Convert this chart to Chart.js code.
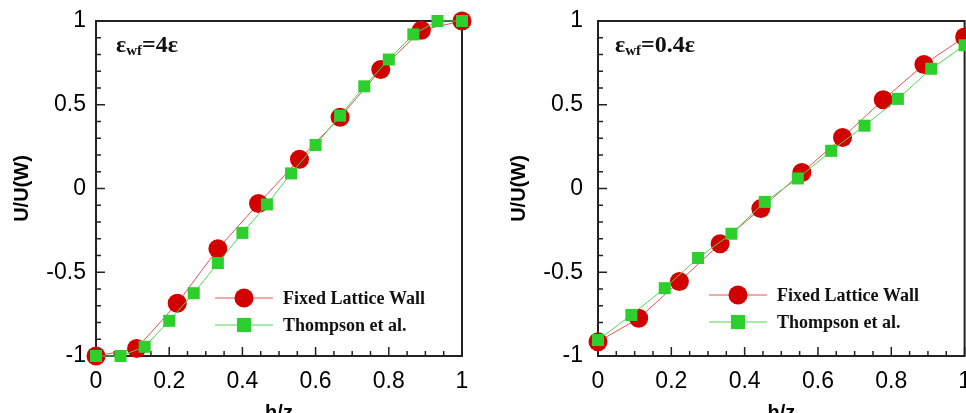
<!DOCTYPE html>
<html>
<head>
<meta charset="utf-8">
<script src="https://cdn.jsdelivr.net/npm/chart.js@4.4.1/dist/chart.umd.min.js"></script>
<style>
    html, body { margin: 0; padding: 0; background: #fff; overflow: hidden; width: 966px; height: 413px; }
    canvas { position: absolute; top: 0; }
    #left-chart { left: 0; }
    #right-chart { left: 483px; }
</style>
</head>
<body>
<canvas id="left-chart" width="483" height="430"></canvas>
<canvas id="right-chart" width="500" height="430"></canvas>
<script>
// Series names and tick labels
const seriesNames = ['Fixed Lattice Wall', 'Thompson et al.'];
const xTickLabels = ['0', '0.2', '0.4', '0.6', '0.8', '1'];
const yTickLabels = ['-1', '-0.5', '0', '0.5', '1'];

// Left panel (eps_wf = 4 eps)
const leftTag = ['ε', 'wf', '=4ε'];
const leftLatticeX = [0, 0.111, 0.222, 0.333, 0.444, 0.556, 0.667, 0.778, 0.889, 1];
const leftLatticeY = [-1, -0.955, -0.685, -0.36, -0.09, 0.175, 0.425, 0.71, 0.945, 1];
const leftThompsonX = [0, 0.067, 0.133, 0.2, 0.267, 0.333, 0.4, 0.467, 0.533, 0.6, 0.667, 0.733, 0.8, 0.867, 0.933, 1];
const leftThompsonY = [-1, -1, -0.945, -0.79, -0.625, -0.445, -0.265, -0.095, 0.09, 0.26, 0.435, 0.61, 0.77, 0.92, 1, 1];

// Right panel (eps_wf = 0.4 eps)
const rightTag = ['ε', 'wf', '=0.4ε'];
const rightLatticeX = [0, 0.111, 0.222, 0.333, 0.444, 0.556, 0.667, 0.778, 0.889, 1];
const rightLatticeY = [-0.915, -0.775, -0.555, -0.33, -0.12, 0.095, 0.305, 0.53, 0.74, 0.905];
const rightThompsonX = [0, 0.091, 0.182, 0.273, 0.364, 0.455, 0.545, 0.636, 0.727, 0.818, 0.909, 1];
const rightThompsonY = [-0.905, -0.755, -0.595, -0.415, -0.27, -0.08, 0.06, 0.225, 0.375, 0.535, 0.715, 0.855];

Chart.defaults.font.family = '"Liberation Sans", Arial, sans-serif';
Chart.defaults.color = '#000';

function toPoints(xs, ys) {
    return xs.map((x, i) => ({ x: x, y: ys[i] }));
}

function fmt(value) {
    return String(+value.toFixed(2));
}

// Frame, inward ticks, legend and the epsilon tag
const panelDecor = {
    id: 'panelDecor',
    beforeDatasetsDraw(chart, args, opts) {
        const ctx = chart.ctx;
        const area = chart.chartArea;
        ctx.save();
        ctx.strokeStyle = '#222';
        ctx.lineWidth = 2;
        ctx.strokeRect(area.left, area.top, area.right - area.left, area.bottom - area.top);

        ctx.lineWidth = 1.5;
        ctx.beginPath();
        chart.scales.x.ticks.forEach(t => {
            const px = chart.scales.x.getPixelForValue(t.value);
            const len = t.label !== '' ? 9 : 5;
            ctx.moveTo(px, area.bottom);
            ctx.lineTo(px, area.bottom - len);
        });
        chart.scales.y.ticks.forEach(t => {
            const py = chart.scales.y.getPixelForValue(t.value);
            const len = t.label !== '' ? 9 : 5;
            ctx.moveTo(area.left, py);
            ctx.lineTo(area.left + len, py);
        });
        ctx.stroke();
        ctx.restore();
    },
    afterDatasetsDraw(chart, args, opts) {
        const ctx = chart.ctx;
        const area = chart.chartArea;
        ctx.save();

        // legend
        const lx = area.left + opts.legendX;
        chart.data.datasets.forEach((ds, i) => {
            const ly = area.top + opts.legendY + i * 27;
            ctx.strokeStyle = ds.borderColor;
            ctx.lineWidth = 1;
            ctx.beginPath();
            ctx.moveTo(lx, ly);
            ctx.lineTo(lx + 58, ly);
            ctx.stroke();
            ctx.fillStyle = ds.pointBackgroundColor;
            Chart.helpers.drawPoint(ctx, {
                pointStyle: ds.pointStyle,
                radius: ds.pointStyle === 'rect' ? 10 : 9.5,
                rotation: 0,
                borderWidth: 0
            }, lx + 29, ly);
            ctx.fillStyle = '#111';
            ctx.font = 'bold 18px "Liberation Serif", "Times New Roman", serif';
            ctx.textBaseline = 'middle';
            ctx.fillText(ds.label, lx + 68, ly + 1);
        });

        // epsilon tag
        const tag = opts.tag;
        let tx = area.left + opts.tagX;
        const ty = area.top + opts.tagY;
        ctx.fillStyle = '#111';
        ctx.textBaseline = 'alphabetic';
        ctx.font = 'bold 24px "Liberation Serif", "Times New Roman", serif';
        ctx.fillText(tag[0], tx, ty);
        tx += ctx.measureText(tag[0]).width;
        ctx.font = 'bold 15px "Liberation Serif", "Times New Roman", serif';
        ctx.fillText(tag[1], tx, ty + 3);
        tx += ctx.measureText(tag[1]).width;
        ctx.font = 'bold 24px "Liberation Serif", "Times New Roman", serif';
        ctx.fillText(tag[2], tx, ty);
        ctx.restore();
    }
};

function makeChart(canvasId, latticePts, thompsonPts, cfg) {
    const ctx = document.getElementById(canvasId);
    return new Chart(ctx, {
        type: 'line',
        data: {
            datasets: [
                {
                    label: seriesNames[0],
                    data: latticePts,
                    order: 2,
                    borderColor: '#e25555',
                    borderWidth: 1,
                    pointStyle: 'circle',
                    pointRadius: 9.5,
                    pointBackgroundColor: '#d20000',
                    pointBorderWidth: 0,
                    tension: 0,
                    clip: false
                },
                {
                    label: seriesNames[1],
                    data: thompsonPts,
                    order: 1,
                    borderColor: '#52d452',
                    borderWidth: 1,
                    pointStyle: 'rect',
                    pointRadius: 8.5,
                    pointBackgroundColor: '#2ccf2c',
                    pointBorderWidth: 0,
                    tension: 0,
                    clip: false
                }
            ]
        },
        options: {
            responsive: false,
            animation: false,
            events: [],
            layout: {
                padding: { top: 21, right: cfg.padRight, left: 0, bottom: 0 }
            },
            plugins: {
                legend: { display: false },
                tooltip: { enabled: false },
                panelDecor: {
                    legendX: cfg.legendX,
                    legendY: cfg.legendY,
                    tag: cfg.tag,
                    tagX: cfg.tagX,
                    tagY: 31
                }
            },
            scales: {
                x: {
                    type: 'linear',
                    min: 0,
                    max: 1,
                    grid: { display: false, drawTicks: false },
                    border: { display: false },
                    ticks: {
                        stepSize: 0.05,
                        autoSkip: false,
                        maxRotation: 0,
                        padding: 12,
                        font: { size: 23 },
                        callback: function(value) {
                            const s = fmt(value);
                            return xTickLabels.includes(s) ? s : '';
                        }
                    },
                    title: {
                        display: true,
                        text: 'h/z',
                        font: { size: 20, weight: 'bold' },
                        padding: { top: 0, bottom: 5 }
                    },
                    afterFit: function(scale) { scale.height = 74; }
                },
                y: {
                    type: 'linear',
                    min: -1,
                    max: 1,
                    grid: { display: false, drawTicks: false },
                    border: { display: false },
                    ticks: {
                        stepSize: 0.1,
                        autoSkip: false,
                        padding: cfg.yTickPad,
                        font: { size: 23 },
                        callback: function(value) {
                            const s = fmt(value);
                            return yTickLabels.includes(s) ? s : '';
                        }
                    },
                    title: {
                        display: true,
                        text: 'U/U(W)',
                        font: { size: 20, weight: 'bold' },
                        padding: { top: cfg.yTitlePad, bottom: 0 }
                    },
                    afterFit: function(scale) {
                        scale.width = cfg.yWidth;
                        // keep the plot box where the layout padding puts it
                        scale.paddingTop = 0;
                        scale.paddingBottom = 0;
                    }
                }
            }
        },
        plugins: [panelDecor]
    });
}

makeChart('left-chart', toPoints(leftLatticeX, leftLatticeY), toPoints(leftThompsonX, leftThompsonY), {
    padRight: 21, yWidth: 96, yTickPad: 10, yTitlePad: 10,
    legendX: 119, legendY: 277, tag: leftTag, tagX: 20
});

makeChart('right-chart', toPoints(rightLatticeX, rightLatticeY), toPoints(rightThompsonX, rightThompsonY), {
    padRight: 16, yWidth: 115, yTickPad: 15, yTitlePad: 24,
    legendX: 111, legendY: 274, tag: rightTag, tagX: 17
});
</script>
</body>
</html>
